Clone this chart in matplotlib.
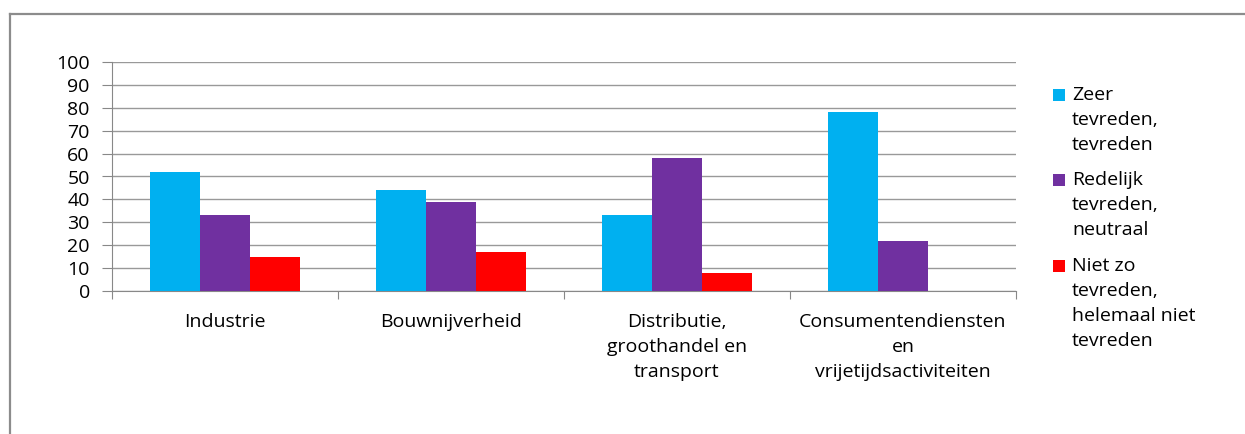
import matplotlib.pyplot as plt
import numpy as np
from matplotlib.patches import Rectangle
from matplotlib.lines import Line2D

plt.rcParams['font.family'] = ['Open Sans', 'DejaVu Sans']

categories = ['Industrie', 'Bouwnijverheid', 'Distributie,\ngroothandel en\ntransport',
              'Consumentendiensten\nen\nvrijetijdsactiviteiten']
series_labels = ['Zeer\ntevreden,\ntevreden', 'Redelijk\ntevreden,\nneutraal',
                 'Niet zo\ntevreden,\nhelemaal niet\ntevreden']
zeer_tevreden = [52, 44, 33, 78]
redelijk = [33, 39, 58, 22]
niet_tevreden = [15, 17, 8, 0]
colors = ['#00b0f0', '#7030a0', '#ff0000']

W, H = 1245, 434
fig = plt.figure(figsize=(W / 100, H / 100), dpi=100)

# outer chart frame (cut off at right and bottom)
fig.add_artist(Line2D([10 / W, 10 / W], [0, 1 - 14 / H], color='#8c8c8c', lw=1.6))
fig.add_artist(Line2D([10 / W, 1], [1 - 14 / H, 1 - 14 / H], color='#8c8c8c', lw=1.6))

ax = fig.add_axes([112 / W, 1 - 291 / H, (1016 - 112) / W, (291 - 62) / H])

x = np.arange(len(categories))
bw = 0.22
for i, (vals, c) in enumerate(zip([zeer_tevreden, redelijk, niet_tevreden], colors)):
    ax.bar(x + (i - 1) * bw, vals, bw, color=c, zorder=3)

ax.set_xlim(-0.5, len(categories) - 0.5)
ax.set_ylim(0, 100)
ax.set_yticks(range(0, 101, 10))
ax.yaxis.grid(True, color='#999999', lw=1.0, zorder=0)
for s in ['top', 'right']:
    ax.spines[s].set_visible(False)
ax.spines['left'].set_color('#888888')
ax.spines['bottom'].set_color('#888888')
ax.tick_params(axis='y', length=7, color='#888888', labelsize=14, pad=9)

# category boundary ticks below the axis
ax.set_xticks(np.arange(-0.5, len(categories)), minor=False)
ax.set_xticklabels([])
ax.tick_params(axis='x', length=6, color='#888888', direction='out')
for xi, lab in zip(x, categories):
    ax.text(xi, -9.5, lab, ha='center', va='top', fontsize=14,
            linespacing=1.5, transform=ax.transData, clip_on=False)

# legend
leg_top = [89, 174, 260]
for lab, c, ty in zip(series_labels, colors, leg_top):
    fig.add_artist(Rectangle((1053 / W, 1 - (ty + 12) / H), 12 / W, 12 / H,
                             facecolor=c, edgecolor='none'))
    fig.text(1072 / W, 1 - (ty - 3) / H, lab, ha='left', va='top', fontsize=14,
             linespacing=1.5)

fig.savefig('out.png', dpi=100)
